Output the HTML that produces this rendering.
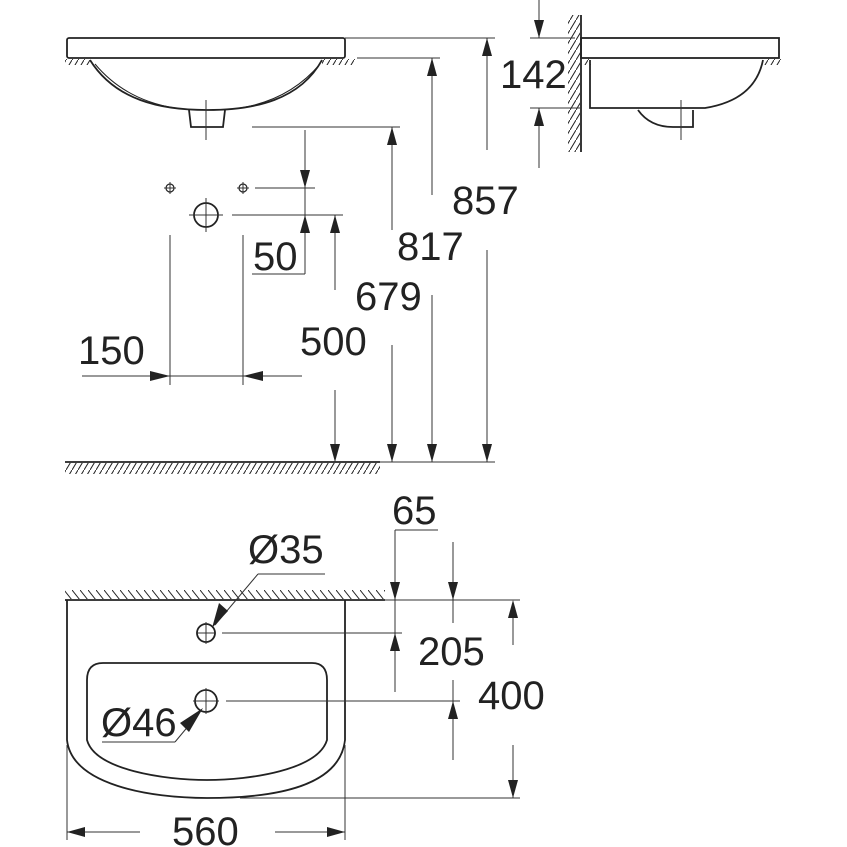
<!DOCTYPE html>
<html><head><style>html,body{margin:0;padding:0;background:#fff}svg{display:block}text{font-family:"Liberation Sans",sans-serif;font-size:40px;fill:#222}</style></head>
<body>
<svg width="847" height="847" viewBox="0 0 847 847" xmlns="http://www.w3.org/2000/svg">
<defs>
<pattern id="h" width="6" height="10" patternUnits="userSpaceOnUse"><line x1="0" y1="10" x2="6" y2="0" stroke="#222" stroke-width="1"/></pattern>
<pattern id="hb" width="8" height="10" patternUnits="userSpaceOnUse"><line x1="0" y1="0" x2="8" y2="10" stroke="#222" stroke-width="1"/></pattern>
</defs>
<g stroke="#222" fill="none" stroke-width="1.8">
<rect x="67" y="38" width="278" height="20" rx="2"/>
<path d="M90 60 C115 100 160 110 207 110 C255 110 300 100 322 60"/>
<path d="M95 64 Q125 100 175 108 M320 64 Q290 100 240 108" stroke-width="1"/>
<path d="M189 110 L191 127 L223 127 L225 110"/>
<rect x="581" y="38" width="198" height="20"/>
<path d="M590 60 V108 H705 Q755 100 763 60"/>
<path d="M638 110 Q650 127 673 127 H693 V110"/>
<line x1="581" y1="15" x2="581" y2="152"/>
<path d="M67 600 V740 C72 785 150 798 207 798 C280 798 340 785 345 740 V600"/>
<path d="M103 663 H312 Q327 663 327 680 V740 C318 770 250 780 207 780 C165 780 95 770 87 740 V680 Q87 663 103 663 Z"/>
<circle cx="206" cy="633" r="9"/>
<circle cx="206" cy="701" r="11"/>
<circle cx="206" cy="215" r="12"/>
<circle cx="170" cy="188" r="4" stroke-width="1.2"/>
<circle cx="243" cy="188" r="4" stroke-width="1.2"/>
<line x1="65" y1="600" x2="385" y2="600"/>
<line x1="65" y1="462" x2="380" y2="462"/>
</g>
<rect x="568" y="15" width="12" height="137" fill="url(#h)"/>
<rect x="65" y="590" width="320" height="9" fill="url(#hb)"/>
<rect x="65" y="463" width="315" height="11" fill="url(#h)"/>
<rect x="65" y="59" width="25" height="6" fill="url(#h)"/>
<rect x="322" y="59" width="33" height="6" fill="url(#h)"/>
<rect x="583" y="59" width="8" height="6" fill="url(#h)"/>
<rect x="764" y="59" width="18" height="6" fill="url(#h)"/>
<g stroke="#333" stroke-width="1" fill="none">
<line x1="206" y1="100" x2="206" y2="140"/><line x1="681" y1="100" x2="681" y2="140"/>
<line x1="206" y1="198" x2="206" y2="232"/><line x1="189" y1="215" x2="223" y2="215"/>
<line x1="164" y1="188" x2="176" y2="188"/><line x1="170" y1="182" x2="170" y2="194"/>
<line x1="237" y1="188" x2="249" y2="188"/><line x1="243" y1="182" x2="243" y2="194"/>
<line x1="196" y1="633" x2="216" y2="633"/><line x1="206" y1="622" x2="206" y2="644"/>
<line x1="193" y1="701" x2="219" y2="701"/><line x1="206" y1="688" x2="206" y2="714"/>
<line x1="345" y1="38" x2="495" y2="38"/><line x1="357" y1="58" x2="440" y2="58"/>
<line x1="252" y1="127" x2="400" y2="127"/><line x1="255" y1="188" x2="315" y2="188"/>
<line x1="232" y1="215" x2="343" y2="215"/>
<line x1="487" y1="38" x2="487" y2="150"/><line x1="487" y1="250" x2="487" y2="462"/>
<line x1="432" y1="58" x2="432" y2="195"/><line x1="432" y1="295" x2="432" y2="462"/>
<line x1="392" y1="127" x2="392" y2="230"/><line x1="392" y1="345" x2="392" y2="462"/>
<line x1="305" y1="130" x2="305" y2="274"/><line x1="252" y1="274" x2="305" y2="274"/>
<line x1="335" y1="215" x2="335" y2="290"/><line x1="335" y1="390" x2="335" y2="462"/>
<line x1="380" y1="462" x2="495" y2="462"/>
<line x1="170" y1="235" x2="170" y2="385"/><line x1="243" y1="235" x2="243" y2="385"/>
<line x1="82" y1="376" x2="302" y2="376"/>
<line x1="539" y1="0" x2="539" y2="38"/><line x1="530" y1="38" x2="575" y2="38"/>
<line x1="530" y1="108" x2="580" y2="108"/><line x1="539" y1="108" x2="539" y2="168"/>
<line x1="385" y1="600" x2="520" y2="600"/><line x1="240" y1="798" x2="520" y2="798"/>
<line x1="222" y1="633" x2="402" y2="633"/><line x1="226" y1="701" x2="460" y2="701"/>
<line x1="395" y1="530" x2="438" y2="530"/><line x1="395" y1="530" x2="395" y2="692"/>
<line x1="453" y1="542" x2="453" y2="623"/><line x1="453" y1="680" x2="453" y2="760"/>
<line x1="513" y1="605" x2="513" y2="645"/><line x1="513" y1="745" x2="513" y2="798"/>
<line x1="258" y1="574" x2="325" y2="574"/><line x1="258" y1="574" x2="215" y2="625"/>
<line x1="102" y1="742" x2="175" y2="742"/><line x1="175" y1="742" x2="200" y2="712"/>
<line x1="67" y1="745" x2="67" y2="840"/><line x1="345" y1="745" x2="345" y2="840"/>
<line x1="67" y1="832" x2="140" y2="832"/><line x1="275" y1="832" x2="345" y2="832"/>
</g>
<g fill="#222">
<path d="M330 444 L340 444 L335 462Z"/><path d="M387 444 L397 444 L392 462Z"/>
<path d="M427 444 L437 444 L432 462Z"/><path d="M482 444 L492 444 L487 462Z"/>
<path d="M482 56 L492 56 L487 38Z"/><path d="M427 76 L437 76 L432 58Z"/>
<path d="M387 145 L397 145 L392 127Z"/><path d="M300 233 L310 233 L305 215Z"/>
<path d="M330 233 L340 233 L335 215Z"/><path d="M300 170 L310 170 L305 188Z"/>
<path d="M534 20 L544 20 L539 38Z"/><path d="M534 126 L544 126 L539 108Z"/>
<path d="M150 371 L150 381 L170 376Z"/><path d="M263 371 L263 381 L243 376Z"/>
<path d="M390 582 L400 582 L395 600Z"/><path d="M390 651 L400 651 L395 633Z"/>
<path d="M448 582 L458 582 L453 600Z"/><path d="M448 719 L458 719 L453 701Z"/>
<path d="M508 618 L518 618 L513 600Z"/><path d="M508 780 L518 780 L513 798Z"/>
<path d="M85 827 L85 837 L67 832Z"/><path d="M327 827 L327 837 L345 832Z"/>
<path d="M212 628 L219 603 L228 611Z"/><path d="M203 708 L189 732 L180 723Z"/>
</g>
<text x="500" y="88">142</text>
<text x="452" y="214">857</text>
<text x="397" y="260">817</text>
<text x="355" y="310">679</text>
<text x="253" y="270">50</text>
<text x="300" y="355">500</text>
<text x="78" y="364">150</text>
<text x="392" y="524">65</text>
<text x="248" y="563">Ø35</text>
<text x="418" y="665">205</text>
<text x="478" y="709">400</text>
<text x="101" y="736">Ø46</text>
<text x="172" y="845">560</text>
</svg>
</body></html>
